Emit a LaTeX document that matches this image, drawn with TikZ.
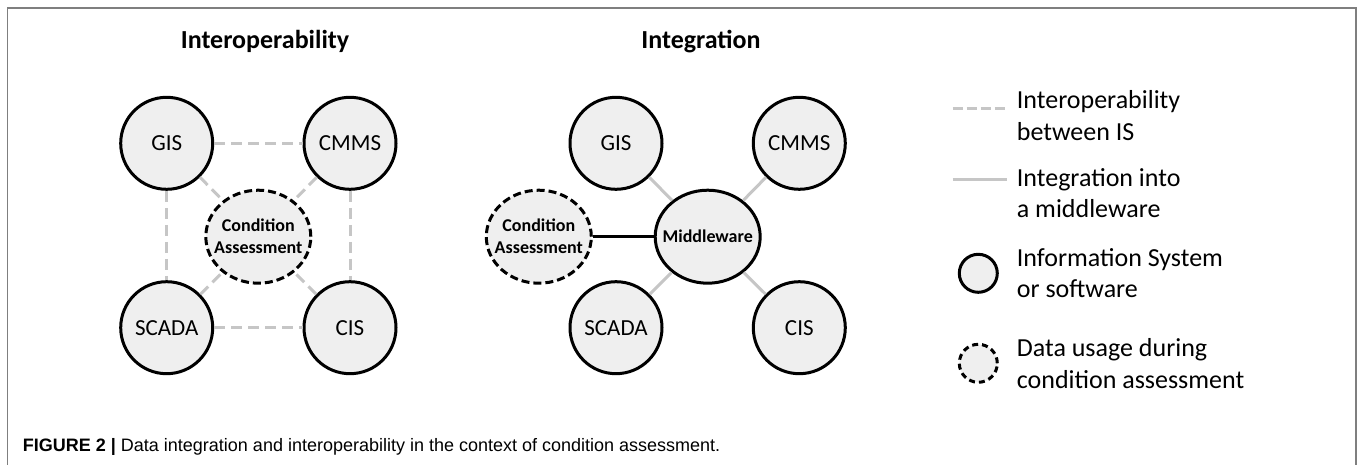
\documentclass[tikz,border=0pt]{standalone}
\usepackage{fontspec}
\setmainfont{Carlito}
\newfontfamily\capfont{Liberation Sans}
\usepackage{xcolor}
\definecolor{myfill}{HTML}{EFEFEF}
\definecolor{mygray}{HTML}{C6C6C6}
\definecolor{myframe}{HTML}{7F7F7F}
\usetikzlibrary{shapes.geometric}

\begin{document}
\begin{tikzpicture}[x=1pt,y=-1pt,
    sys/.style={circle, draw, line width=3pt, fill=myfill, minimum size=92pt, inner sep=0pt, font=\fontsize{23}{27}\selectfont},
    hub/.style={ellipse, draw, line width=3pt, fill=myfill, minimum width=105pt, minimum height=93pt, inner xsep=-25pt, inner ysep=-15pt, align=center, font=\bfseries\fontsize{18}{22}\selectfont},
    ca/.style={hub, dash pattern=on 8pt off 4pt},
    interop/.style={mygray, line width=3pt, dash pattern=on 11pt off 6pt},
    integr/.style={mygray, line width=3pt},
    legtext/.style={anchor=west, align=left, inner sep=0pt, font=\fontsize{26}{31.7}\selectfont}
  ]
  \useasboundingbox (0,0) rectangle (1358,465);
  \draw[myframe, line width=1.5pt] (7.5,465) -- (7.5,8) -- (1356,8) -- (1356,465);

  % titles
  \node[anchor=base, font=\bfseries\fontsize{26}{30}\selectfont] (title1) at (265,48.5) {Interoperability};
  \node[anchor=base, font=\bfseries\fontsize{26}{30}\selectfont] (title2) at (701,48.5) {Integration};

  % interoperability
  \node[sys] (gis1) at (166.7,143.3) {GIS};
  \node[sys] (cmms1) at (350,143.3) {CMMS};
  \node[sys] (scada1) at (166.7,327.7) {SCADA};
  \node[sys] (cis1) at (350,327.7) {CIS};
  \node[ca] (ca1) at (258.3,236.7) {Condition\\Assessment};
  \draw[interop] (gis1) -- (cmms1) (scada1) -- (cis1) (gis1) -- (scada1) (cmms1) -- (cis1);
  \draw[interop] foreach \s in {gis1,cmms1,scada1,cis1}{(\s) -- (ca1)};

  % integration
  \node[sys] (gis2) at (616,143.3) {GIS};
  \node[sys] (cmms2) at (799.3,143.3) {CMMS};
  \node[sys] (scada2) at (616,327.7) {SCADA};
  \node[sys] (cis2) at (799.3,327.7) {CIS};
  \node[hub] (mw) at (707.7,236.7) {Middleware};
  \node[ca] (ca2) at (538.8,236.7) {Condition\\Assessment};
  \draw[integr] foreach \s in {gis2,cmms2,scada2,cis2}{(\s) -- (mw)};
  \draw[line width=2.5pt] (ca2) -- (mw);

  % legend
  \coordinate (l1a) at (952.7,109);
  \coordinate (l1b) at (1006.7,109);
  \draw[interop, dash pattern=on 10pt off 4pt] (l1a) -- (l1b);
  \node[legtext] (lt1) at (1016.7,115.8) {Interoperability\\between IS};
  \coordinate (l2a) at (952.7,180);
  \coordinate (l2b) at (1006.7,180);
  \draw[integr] (l2a) -- (l2b);
  \node[legtext] (lt2) at (1016.7,193) {Integration into\\a middleware};
  \node[sys, minimum size=38pt] (lsys) at (978.3,273.3) {};
  \node[legtext] (lt3) at (1016.7,273.2) {Information System\\or software};
  \node[ca, minimum width=38pt, minimum height=38pt, dash pattern=on 6pt off 4pt] (lca) at (978.3,363.3) {};
  \node[legtext] (lt4) at (1016.7,363.3) {Data usage during\\condition assessment};

  % caption
  \node[anchor=base west, inner sep=0pt, font=\capfont\fontsize{18}{22}\selectfont] (cap) at (22.7,451) {\textbf{FIGURE 2 |} Data integration and interoperability in the context of condition assessment.};
\end{tikzpicture}
\end{document}
